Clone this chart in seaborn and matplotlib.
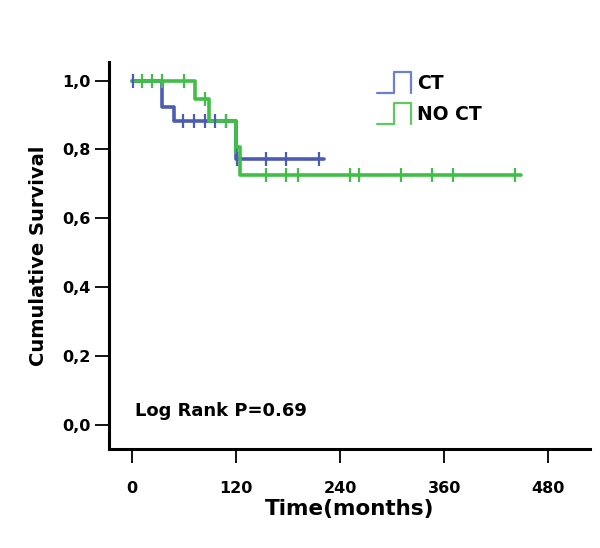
import numpy as np
import pandas as pd
import matplotlib
matplotlib.use('Agg')
import matplotlib.pyplot as plt
from matplotlib.legend_handler import HandlerBase
from matplotlib.lines import Line2D
import seaborn as sns

# survival steps (months, cumulative survival)
ct_time = [0, 35, 48, 120, 221]
ct_surv = [1.0, 0.923, 0.882, 0.773, 0.773]
noct_time = [0, 73, 89, 120, 125, 448]
noct_surv = [1.0, 0.947, 0.882, 0.807, 0.725, 0.725]

# censored cases
ct_cens_time = [1, 59, 72, 84, 96, 108, 121, 155, 178, 215]
ct_cens_surv = [1.0, 0.882, 0.882, 0.882, 0.882, 0.882, 0.773, 0.773, 0.773, 0.773]
noct_cens_time = [12, 23, 35, 60, 84, 108, 119, 155, 178, 191, 251, 262, 310, 346, 370, 442]
noct_cens_surv = [1.0, 1.0, 1.0, 1.0, 0.947, 0.882, 0.807, 0.725, 0.725, 0.725, 0.725,
                  0.725, 0.725, 0.725, 0.725, 0.725]

groups = ['CT', 'NO CT']
x_ticks = [0, 120, 240, 360, 480]
y_ticks = [0.0, 0.2, 0.4, 0.6, 0.8, 1.0]

colors = {'CT': '#4a5cb4', 'NO CT': '#3fbf45'}
legend_colors = {'CT': '#6d7fd0', 'NO CT': '#5ccd5c'}

steps = pd.concat([
    pd.DataFrame({'time': ct_time, 'surv': ct_surv, 'group': 'CT'}),
    pd.DataFrame({'time': noct_time, 'surv': noct_surv, 'group': 'NO CT'}),
])
cens = pd.concat([
    pd.DataFrame({'time': ct_cens_time, 'surv': ct_cens_surv, 'group': 'CT'}),
    pd.DataFrame({'time': noct_cens_time, 'surv': noct_cens_surv, 'group': 'NO CT'}),
])

sns.set_style('white')
plt.rcParams['font.family'] = ['DejaVu Sans']
plt.rcParams['font.weight'] = 'bold'
plt.rcParams['text.color'] = 'black'
plt.rcParams['axes.labelcolor'] = 'black'
plt.rcParams['xtick.color'] = 'black'
plt.rcParams['ytick.color'] = 'black'

fig = plt.figure(figsize=(6.0, 5.48), dpi=100)
ax = fig.add_axes([0.181, 0.181, 0.8025, 0.706])

for g in groups:
    d = steps[steps['group'] == g]
    sns.lineplot(data=d, x='time', y='surv', ax=ax, color=colors[g], lw=2.6,
                 drawstyle='steps-post', estimator=None, sort=False, legend=False)
for g in groups:
    d = cens[cens['group'] == g]
    sns.scatterplot(data=d, x='time', y='surv', ax=ax, color=colors[g], marker='|',
                    s=110, linewidth=1.6, legend=False, zorder=3)


class StepHandler(HandlerBase):
    def create_artists(self, legend, orig_handle, xdescent, ydescent, width, height, fontsize, trans):
        x0 = -xdescent
        y0 = -ydescent - 3
        h = height + 6
        xs = [x0, x0 + width * 0.5, x0 + width * 0.5, x0 + width, x0 + width]
        ys = [y0, y0, y0 + h, y0 + h, y0]
        ln = Line2D(xs, ys, color=orig_handle.get_color(), lw=1.6, transform=trans)
        return [ln]


handles = [Line2D([], [], color=legend_colors[g]) for g in groups]
ax.legend(handles, groups, handler_map={Line2D: StepHandler()}, loc='upper left',
          bbox_to_anchor=(0.557, 0.968), frameon=False, borderpad=0, borderaxespad=0,
          handlelength=1.85, handletextpad=0.32, labelspacing=0.62,
          prop={'weight': 'bold', 'size': 13.5})

ax.set_xlim(-27, 528)
ax.set_ylim(-0.07, 1.054)
ax.set_xticks(x_ticks)
ax.set_yticks(y_ticks)
ax.set_yticklabels([f'{v:.1f}'.replace('.', ',') for v in y_ticks])
ax.tick_params(axis='both', direction='out', length=10, width=1.3, labelsize=11.5,
               color='black', labelcolor='black', left=True, bottom=True)
ax.tick_params(axis='x', pad=13)
ax.tick_params(axis='y', pad=3)
for lbl in ax.get_xticklabels() + ax.get_yticklabels():
    lbl.set_fontweight('bold')

ax.spines['top'].set_visible(False)
ax.spines['right'].set_visible(False)
for side in ['left', 'bottom']:
    ax.spines[side].set_linewidth(2.2)
    ax.spines[side].set_color('black')

ax.set_xlabel('Time(months)', fontsize=15.5, fontweight='bold', labelpad=2)
ax.set_ylabel('Cumulative Survival', fontsize=14, fontweight='bold', labelpad=10)
ax.text(4, 0.024, 'Log Rank P=0.69', fontsize=13, fontweight='bold', va='baseline')

fig.savefig('out.png', dpi=100)
